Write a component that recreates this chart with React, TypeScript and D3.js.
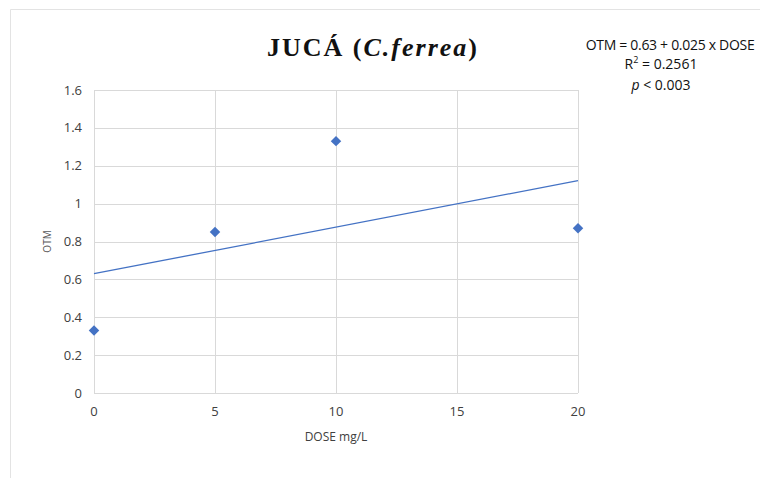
import React, { useEffect, useRef } from "react";
import * as d3 from "d3";

const doses = [0, 5, 10, 20];
const otm = [0.33, 0.85, 1.33, 0.87];
const xTicks = [0, 5, 10, 15, 20];
const yTicks = [0, 0.2, 0.4, 0.6, 0.8, 1, 1.2, 1.4, 1.6];

const W = 760;
const H = 478;
const margin = { left: 94, top: 90, right: 182, bottom: 85 };

export default function App() {
  const ref = useRef<SVGSVGElement>(null);

  useEffect(() => {
    const svg = d3.select(ref.current);
    svg.selectAll("*").remove();

    const x = d3.scaleLinear().domain([0, 20]).range([margin.left, W - margin.right]);
    const y = d3.scaleLinear().domain([0, 1.6]).range([H - margin.bottom, margin.top]);

    svg.append("rect").attr("width", W).attr("height", H).attr("fill", "#fff");

    // faint chart border (left and top only visible)
    svg.append("path")
      .attr("d", `M10.5,${H} L10.5,9.5 L${W},9.5`)
      .attr("fill", "none")
      .attr("stroke", "#e3e3e3");

    const grid = svg.append("g").attr("stroke", "#d9d9d9").attr("stroke-width", 1);
    yTicks.forEach(t => {
      grid.append("line")
        .attr("x1", x(0)).attr("x2", x(20))
        .attr("y1", Math.round(y(t)) + 0.5).attr("y2", Math.round(y(t)) + 0.5);
    });
    xTicks.forEach(t => {
      grid.append("line")
        .attr("y1", y(0)).attr("y2", y(1.6))
        .attr("x1", Math.round(x(t)) + 0.5).attr("x2", Math.round(x(t)) + 0.5);
    });

    const font = "'Open Sans', 'Liberation Sans', sans-serif";

    svg.append("g")
      .selectAll("text")
      .data(yTicks)
      .enter()
      .append("text")
      .attr("x", x(0) - 12)
      .attr("y", d => y(d))
      .attr("dy", "0.35em")
      .attr("text-anchor", "end")
      .attr("font-family", font)
      .attr("font-size", 13)
      .attr("fill", "#404040")
      .text(d => d3.format("")(d));

    svg.append("g")
      .selectAll("text")
      .data(xTicks)
      .enter()
      .append("text")
      .attr("x", d => x(d))
      .attr("y", y(0) + 23)
      .attr("text-anchor", "middle")
      .attr("font-family", font)
      .attr("font-size", 13)
      .attr("fill", "#404040")
      .text(d => d);

    svg.append("text")
      .attr("x", (x(0) + x(20)) / 2)
      .attr("y", y(0) + 48)
      .attr("text-anchor", "middle")
      .attr("font-family", font)
      .attr("font-size", 12)
      .attr("fill", "#404040")
      .text("DOSE mg/L");

    svg.append("text")
      .attr("transform", `translate(51,${(y(0) + y(1.6)) / 2}) rotate(-90)`)
      .attr("text-anchor", "middle")
      .attr("font-family", font)
      .attr("font-size", 10)
      .attr("fill", "#595959")
      .text("OTM");

    // least squares trend line from the data
    const mx = d3.mean(doses) as number;
    const my = d3.mean(otm) as number;
    const sxy = d3.sum(doses, (d, i) => (d - mx) * (otm[i] - my));
    const sxx = d3.sum(doses, d => (d - mx) * (d - mx));
    const slope = sxy / sxx;
    const icpt = my - slope * mx;

    const line = d3.line<number>().x(d => x(d)).y(d => y(icpt + slope * d));
    svg.append("path")
      .datum([0, 20])
      .attr("d", line)
      .attr("fill", "none")
      .attr("stroke", "#4472c4")
      .attr("stroke-width", 1.3);

    const diamond = d3.symbol().type(d3.symbolDiamond2).size(70);
    svg.append("g")
      .selectAll("path")
      .data(doses)
      .enter()
      .append("path")
      .attr("d", diamond)
      .attr("transform", (d, i) => `translate(${x(d)},${y(otm[i])})`)
      .attr("fill", "#4472c4");

    // title
    const title = svg.append("text")
      .attr("x", 373)
      .attr("y", 56)
      .attr("text-anchor", "middle")
      .attr("font-family", "'Liberation Serif', 'DejaVu Serif', serif")
      .attr("font-weight", "bold")
      .attr("font-size", 26)
      .attr("letter-spacing", 2)
      .attr("fill", "#111");
    title.append("tspan").text("JUCÁ (");
    title.append("tspan").attr("font-style", "italic").text("C.ferrea");
    title.append("tspan").text(")");

    // equation
    const eq = svg.append("g")
      .attr("font-family", font)
      .attr("font-size", 14)
      .attr("fill", "#111")
      .attr("text-anchor", "middle");
    eq.append("text").attr("x", 670).attr("y", 50).attr("letter-spacing", -0.3)
      .text("OTM = 0.63 + 0.025 x DOSE");
    const r2 = eq.append("text").attr("x", 661).attr("y", 69);
    r2.append("tspan").text("R");
    r2.append("tspan").attr("dy", -6).attr("font-size", 9).text("2");
    r2.append("tspan").attr("dy", 6).text(" = 0.2561");
    const p = eq.append("text").attr("x", 661).attr("y", 90);
    p.append("tspan").attr("font-style", "italic").text("p");
    p.append("tspan").text(" < 0.003");
  }, []);

  return (
    <svg
      ref={ref}
      width={W}
      height={H}
      style={{ position: "absolute", left: 0, top: 0 }}
    />
  );
}
